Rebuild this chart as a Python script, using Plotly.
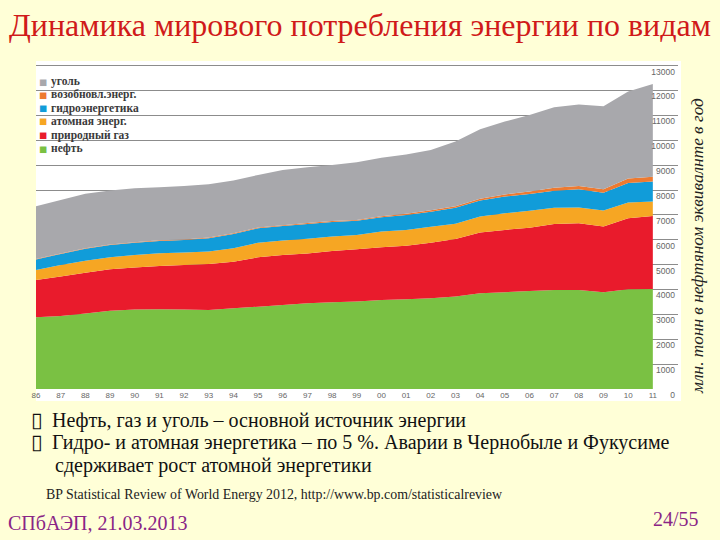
import plotly.graph_objects as go

# ---------------- data (Mtoe) ----------------
years = ["86", "87", "88", "89", "90", "91", "92", "93", "94", "95", "96", "97", "98",
         "99", "00", "01", "02", "03", "04", "05", "06", "07", "08", "09", "10", "11"]

oil = [2880, 2940, 3040, 3150, 3200, 3205, 3200, 3180, 3245, 3310, 3380, 3445, 3485,
       3515, 3580, 3605, 3645, 3715, 3850, 3890, 3940, 3980, 3985, 3890, 4010, 4020]
gas = [1500, 1580, 1635, 1662, 1689, 1742, 1783, 1850, 1876, 1985, 2010, 2004, 2064,
       2107, 2119, 2158, 2239, 2316, 2440, 2508, 2547, 2655, 2682, 2642, 2856, 2940]
nuclear = [402, 470, 483, 484, 496, 511, 510, 496, 538, 589, 576, 590, 580,
           575, 629, 631, 644, 610, 644, 670, 684, 657, 630, 643, 630, 576]
hydro = [429, 442, 482, 495, 496, 495, 495, 536, 576, 577, 591, 600, 590,
         565, 578, 604, 603, 650, 643, 670, 671, 683, 730, 720, 790, 805]
renewables = [20, 20, 22, 22, 24, 25, 26, 27, 28, 30, 32, 34, 36,
              38, 40, 45, 52, 60, 72, 85, 100, 115, 133, 140, 175, 195]
coal = [2119, 2148, 2188, 2167, 2168, 2135, 2152, 2144, 2117, 2117, 2220, 2244, 2255,
        2320, 2354, 2387, 2431, 2597, 2797, 2929, 3079, 3241, 3280, 3335, 3499, 3723]

y_ticks = [0, 1000, 2000, 3000, 4000, 5000, 6000, 7000, 8000, 9000, 10000, 11000, 12000, 13000]
y_tick_labels = [str(v) for v in y_ticks]

series_names = ["нефть", "природный газ", "атомная энерг.", "гидроэнергетика",
                "возобновл.энерг.", "уголь"]
series_values = [oil, gas, nuclear, hydro, renewables, coal]
series_colors = ["#7AC143", "#E91B2C", "#F6A623", "#119CD9", "#EE7A30", "#A8A8AC"]

title_text = "Динамика мирового потребления энергии по видам"
unit_text = "млн. тонн в нефтяном эквивалнте в год"
bullets = ["Нефть, газ и уголь – основной источник энергии",
           "Гидро- и атомная энергетика – по 5 %. Аварии в Чернобыле и Фукусиме",
           "сдерживает рост атомной энергетики"]
source_text = "BP Statistical Review of World Energy 2012, http://www.bp.com/statisticalreview"
footer_left = "СПбАЭП, 21.03.2013"
footer_right = "24/55"

# ---------------- layout geometry ----------------
W, H = 720, 540
L, R, T, B = 36, 678, 62, 389          # plot area in pixels
PW, PH = R - L, B - T


def px(x):
    return (x - L) / PW


def py(y):
    return (B - y) / PH


fig = go.Figure()
for name, vals, col in zip(series_names, series_values, series_colors):
    fig.add_trace(go.Scatter(
        x=years, y=vals, name=name, stackgroup="one", mode="none",
        fillcolor=col, showlegend=False, line=dict(width=0)))

serif = "Liberation Serif"
ann = []

# legend (top-left, inside the chart)
legend_y = [81.5, 94.5, 108, 121.5, 135, 148.5]
for i, (name, col) in enumerate(zip(series_names[::-1], series_colors[::-1])):
    ann.append(dict(xref="paper", yref="paper", x=px(36.5), y=py(legend_y[i]),
                    xanchor="left", yanchor="middle", showarrow=False,
                    text="■", font=dict(family="DejaVu Sans", size=8.5, color=col)))
    ann.append(dict(xref="paper", yref="paper", x=px(48.5), y=py(legend_y[i]),
                    xanchor="left", yanchor="middle", showarrow=False,
                    text="<b>" + name + "</b>",
                    font=dict(family=serif, size=11.5, color="#3a3a3a")))

# unit text on the right
ann.append(dict(xref="paper", yref="paper", x=px(697), y=py(246),
                xanchor="center", yanchor="middle", showarrow=False, textangle=-90,
                text="<i>" + unit_text + "</i>",
                font=dict(family=serif, size=17.3, color="#222222")))

# bullets
bullet_y = [420, 442, 465]
for i, txt in enumerate(bullets):
    if i < 2:
        ann.append(dict(xref="paper", yref="paper", x=px(29), y=py(bullet_y[i]),
                        xanchor="left", yanchor="middle", showarrow=False,
                        text="▯", font=dict(family="DejaVu Sans", size=21, color="#111111")))
    ann.append(dict(xref="paper", yref="paper", x=px(50 if i < 2 else 53), y=py(bullet_y[i]),
                    xanchor="left", yanchor="middle", showarrow=False,
                    text=txt, font=dict(family=serif, size=20, color="#111111")))

ann.append(dict(xref="paper", yref="paper", x=px(44), y=py(494),
                xanchor="left", yanchor="middle", showarrow=False,
                text=source_text, font=dict(family=serif, size=13.9, color="#222222")))
ann.append(dict(xref="paper", yref="paper", x=px(6), y=py(523),
                xanchor="left", yanchor="middle", showarrow=False,
                text=footer_left, font=dict(family=serif, size=20, color="#8A2586")))
ann.append(dict(xref="paper", yref="paper", x=px(701), y=py(519),
                xanchor="right", yanchor="middle", showarrow=False,
                text=footer_right, font=dict(family=serif, size=20, color="#8A2586")))

shapes = [
    dict(type="rect", xref="paper", yref="paper", layer="below",
         x0=px(36), x1=px(681), y0=py(401), y1=py(61),
         fillcolor="white", line=dict(width=0)),
    dict(type="rect", xref="paper", yref="paper", layer="between",
         x0=px(36), x1=px(146.5), y0=py(153), y1=py(67),
         fillcolor="white", line=dict(width=0)),
]

fig.update_layout(
    width=W, height=H,
    margin=dict(l=L, r=W - R, t=T, b=H - B, pad=0, autoexpand=False),
    paper_bgcolor="#FFFFD7", plot_bgcolor="white",
    showlegend=False,
    title=dict(text=title_text, x=0.5, xref="container", xanchor="center",
               y=1 - 25 / H, yref="container", yanchor="middle",
               font=dict(family=serif, size=32, color="#D01A1A")),
    xaxis=dict(type="category", range=[0, 26.02], showgrid=False, zeroline=False,
               showline=False, ticks="", tickmode="array", tickvals=years, ticktext=years,
               automargin=False,
               tickfont=dict(family="Liberation Sans, Arial", size=8, color="#666666")),
    yaxis=dict(range=[0, 13148], side="right", tickmode="array",
               tickvals=y_ticks, ticktext=y_tick_labels, automargin=False,
               ticklabelposition="inside bottom", ticklabeloverflow="allow",
               showgrid=True, gridcolor="#8c8c8c", gridwidth=1, zeroline=False,
               showline=False, ticks="",
               tickfont=dict(family="Liberation Sans, Arial", size=8.5, color="#666666")),
    annotations=ann,
    shapes=shapes,
)

fig.write_html(
    "out.html",
    config={"displayModeBar": False},
    post_script="document.body.style.margin='0px';document.body.style.padding='0px';",
)
